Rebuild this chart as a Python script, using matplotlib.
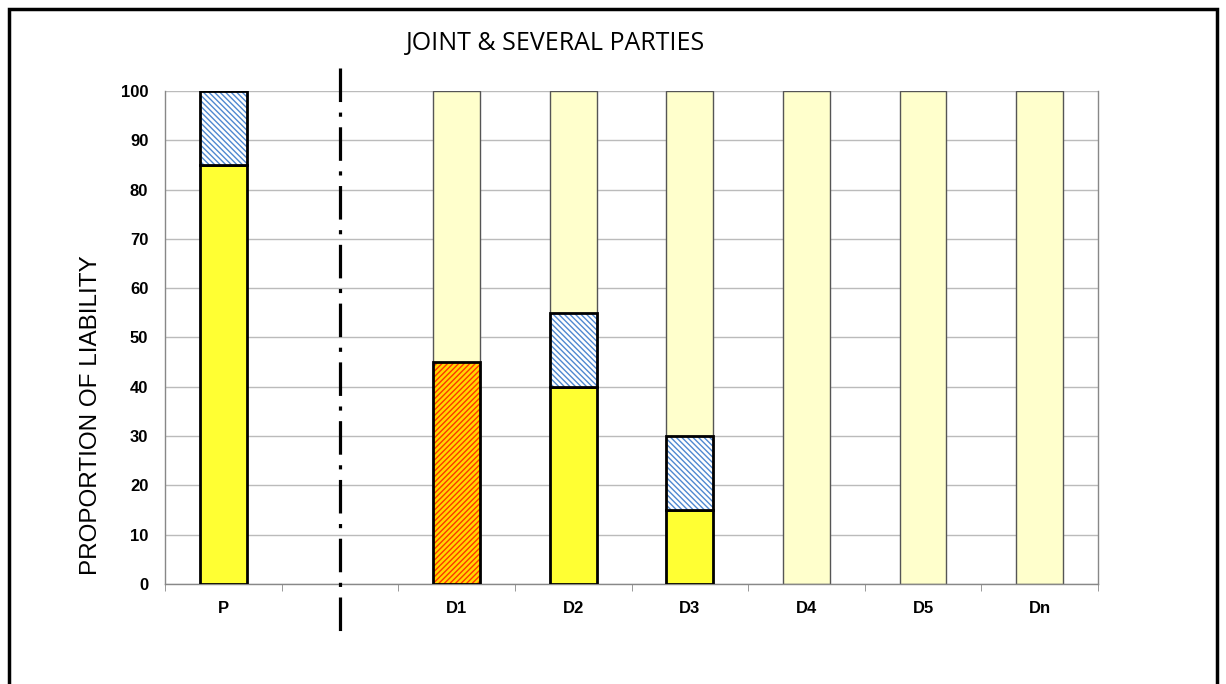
import matplotlib.pyplot as plt
import matplotlib.patches as mpatches
import numpy as np

# Chart data
categories = ["P", "", "D1", "D2", "D3", "D4", "D5", "Dn"]
background = [0, 0, 100, 100, 100, 100, 100, 100]   # pale yellow full bars
yellow = [85, 0, 0, 40, 15, 0, 0, 0]                # solid yellow share
orange = [0, 0, 45, 0, 0, 0, 0, 0]                  # orange hatched share
blue = [15, 0, 0, 15, 15, 0, 0, 0]                  # blue hatched share on top
divider_pos = 1

plt.rcParams['font.family'] = ['Liberation Sans', 'DejaVu Sans']
plt.rcParams['hatch.linewidth'] = 1.0

# Creating the figure
fig = plt.figure(figsize=(12.26, 6.84), dpi=100)
ax = fig.add_axes([0.1346, 0.1462, 0.761, 0.7208])

x = np.arange(len(categories))
w = 0.4

# Background bars
bg_mask = np.array(background) > 0
ax.bar(x[bg_mask], np.array(background)[bg_mask], width=w, color="#FFFFCC",
       edgecolor="#555555", linewidth=1, zorder=2)

# Yellow part
y_arr = np.array(yellow)
m = y_arr > 0
ax.bar(x[m], y_arr[m], width=w, color="#FFFF33", edgecolor="black", linewidth=2, zorder=3)

# Orange hatched part
o_arr = np.array(orange)
m = o_arr > 0
ax.bar(x[m], o_arr[m], width=w, color="#FFD700", edgecolor="#FF3300", hatch="//////",
       linewidth=0, zorder=3)
ax.bar(x[m], o_arr[m], width=w, fill=False, edgecolor="black", linewidth=2, zorder=4)

# Blue hatched part on top of yellow
b_arr = np.array(blue)
m = b_arr > 0
ax.bar(x[m], b_arr[m], bottom=y_arr[m], width=w, color="white", edgecolor="#4F88D0",
       hatch="\\\\\\\\\\\\", linewidth=0, zorder=3)
ax.bar(x[m], b_arr[m], bottom=y_arr[m], width=w, fill=False, edgecolor="black",
       linewidth=2, zorder=4)

# Dash-dot divider
ax.plot([divider_pos, divider_pos], [104.7, -10.5], color="black", linewidth=2.3,
        linestyle=(0, (10.5, 3.3, 1.3, 3.3)), clip_on=False, zorder=5)

# Customizing axis
ax.set_xlim(-0.5, len(categories) - 0.5)
ax.set_ylim(0, 100)
ax.set_yticks(np.arange(0, 101, 10))
ax.set_xticks(x)
ax.set_xticklabels(categories)
ax.set_xticks(np.arange(-0.5, len(categories), 1), minor=True)
ax.tick_params(axis="x", which="major", length=0, pad=12, labelsize=12)
ax.tick_params(axis="x", which="minor", length=5, color="#888888")
ax.tick_params(axis="y", length=0, pad=12, labelsize=12)
for lab in ax.get_xticklabels() + ax.get_yticklabels():
    lab.set_fontweight("bold")

ax.yaxis.grid(True, color="#BBBBBB", linewidth=1, zorder=0)
ax.set_axisbelow(True)
for s in ax.spines.values():
    s.set_color("#888888")
    s.set_linewidth(1)
ax.spines["top"].set_visible(False)

ax.set_ylabel("PROPORTION OF LIABILITY", fontsize=17.5)
ax.yaxis.set_label_coords(-0.068, 0.343)
fig.text(0.4535, 0.937, "JOINT & SEVERAL PARTIES", ha="center", va="center", fontsize=18,
         family=["Open Sans", "DejaVu Sans"])

# Outer frame
frame = mpatches.Rectangle((0.0075, -0.1), 0.985, 1.087, transform=fig.transFigure,
                           fill=False, edgecolor="black", linewidth=2.5)
fig.patches.append(frame)

plt.savefig("out.png", dpi=100)
plt.close()
